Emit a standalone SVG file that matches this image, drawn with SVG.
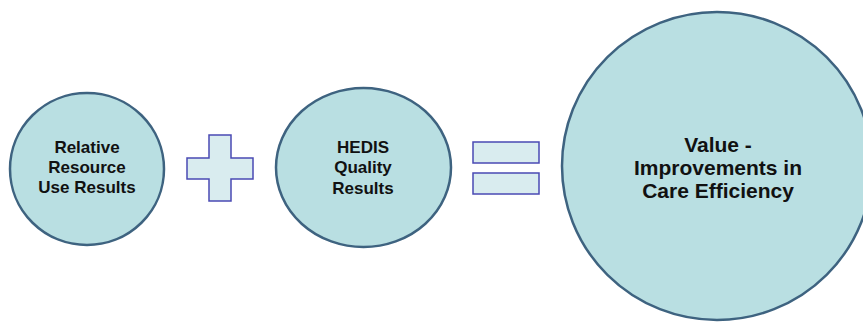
<svg xmlns="http://www.w3.org/2000/svg" width="863" height="322" viewBox="0 0 863 322">
<style>
.c{fill:#b9dfe2;stroke:#3e6380;stroke-width:2.5}
.s{fill:#d9ecef;stroke:#4a4ab4;stroke-width:1.5}
.t{font-family:"Liberation Sans",Arial,sans-serif;font-weight:bold;fill:#111;text-anchor:middle}
</style>
<rect width="863" height="322" fill="#fff"/>
<g id="relative">
<ellipse class="c" cx="87" cy="169" rx="77" ry="76"/>
<text class="t" font-size="17" x="87" y="153">Relative</text>
<text class="t" font-size="17" x="87" y="173">Resource</text>
<text class="t" font-size="17" x="87" y="193">Use Results</text>
</g>
<g id="plus">
<path class="s" d="M209 135H231V158H253V179H231V201H209V179H187V158H209Z"/>
</g>
<g id="hedis">
<ellipse class="c" cx="363.5" cy="167.5" rx="87.5" ry="79.5"/>
<text class="t" font-size="17" x="363" y="153">HEDIS</text>
<text class="t" font-size="17" x="363" y="173">Quality</text>
<text class="t" font-size="17" x="363" y="194">Results</text>
</g>
<g id="equals">
<rect class="s" x="473" y="142" width="66" height="21"/>
<rect class="s" x="473" y="173" width="66" height="21"/>
</g>
<g id="value">
<ellipse class="c" cx="717" cy="166" rx="155" ry="154"/>
<text class="t" font-size="21" x="718" y="152">Value -</text>
<text class="t" font-size="21" x="718" y="175">Improvements in</text>
<text class="t" font-size="21" x="718" y="198">Care Efficiency</text>
</g>
<g id="connectors"/>
</svg>
